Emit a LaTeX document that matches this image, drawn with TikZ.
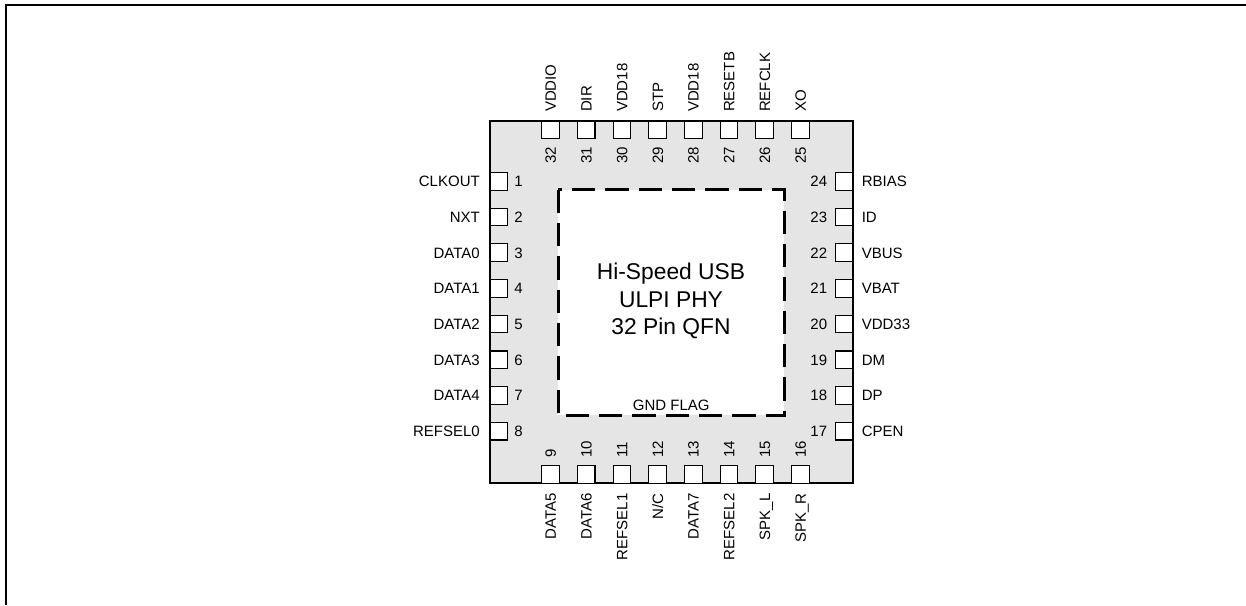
\documentclass[tikz,border=0pt]{standalone}
\usepackage{fontspec}
\setmainfont{Liberation Sans}
\usepackage{tikz}
\usetikzlibrary{positioning}
\definecolor{pkggray}{RGB}{229,229,229}
\tikzstyle{body}=[%
      rectangle, draw=black, line width=1.1pt, fill=pkggray,
      minimum width=363pt, minimum height=362pt, inner sep=0pt
]
\tikzstyle{flag}=[%
      rectangle, fill=white, minimum width=225.7pt, minimum height=225pt, inner sep=0pt
]
\tikzstyle{flagline}=[draw=black, line width=2.7pt, dash pattern=on 23.3pt off 10pt]
\tikzstyle{pad}=[%
      rectangle, draw=black, line width=1.1pt, fill=white,
      minimum size=17.6pt, inner sep=0pt, node distance=17pt
]
\tikzstyle{txt}=[font=\fontsize{15}{18}\selectfont, inner sep=0pt, text height=10.8pt, text depth=0pt]
\tikzstyle{lname}=[txt, node distance=9.5pt]
\tikzstyle{lnum}=[txt, node distance=6pt]
\tikzstyle{rnum}=[txt, node distance=7.5pt]
\tikzstyle{rname}=[txt, node distance=8pt]
\tikzstyle{tname}=[txt, rotate=90, node distance=8.3pt]
\tikzstyle{tnum}=[txt, rotate=90, node distance=7.6pt]
\tikzstyle{bnum}=[txt, rotate=90, node distance=7pt]
\tikzstyle{bname}=[txt, rotate=90, node distance=9.5pt]

\begin{document}
\begin{tikzpicture}[x=1pt, y=-1pt]
    \useasboundingbox (0,0) rectangle (1246,605);
    \draw[line width=2pt] (6,605) -- (6,5) -- (1246,5);

    \node[body] (chip) at (671.5,302)   {};
    \node[flag] (gnd)  at (671.2,302.5) {};
    \draw[flagline] (gnd.north west) -- (gnd.south west) -- (gnd.south east)
                    -- (gnd.north east) -- cycle;
    \node[font=\fontsize{22.8}{27.5}\selectfont, align=center] (title) at (671,301)
         {Hi-Speed USB\\ULPI PHY\\32 Pin QFN};
    \node[txt, above=4.6pt of gnd.south] (gndlbl) {GND FLAG};

    % left side
    \node[pad] (p1) at (498.8,181.3) {};
    \node[pad] (p2) [below = of p1] {};
    \node[pad] (p3) [below = of p2] {};
    \node[pad] (p4) [below = of p3] {};
    \node[pad] (p5) [below = of p4] {};
    \node[pad] (p6) [below = of p5] {};
    \node[pad] (p7) [below = of p6] {};
    \node[pad] (p8) [below = of p7] {};
    \node[lname, left = of p1] (s1) {CLKOUT};   \node[lnum, right = of p1] (n1) {1};
    \node[lname, left = of p2] (s2) {NXT};      \node[lnum, right = of p2] (n2) {2};
    \node[lname, left = of p3] (s3) {DATA0};    \node[lnum, right = of p3] (n3) {3};
    \node[lname, left = of p4] (s4) {DATA1};    \node[lnum, right = of p4] (n4) {4};
    \node[lname, left = of p5] (s5) {DATA2};    \node[lnum, right = of p5] (n5) {5};
    \node[lname, left = of p6] (s6) {DATA3};    \node[lnum, right = of p6] (n6) {6};
    \node[lname, left = of p7] (s7) {DATA4};    \node[lnum, right = of p7] (n7) {7};
    \node[lname, left = of p8] (s8) {REFSEL0};  \node[lnum, right = of p8] (n8) {8};

    % bottom side
    \node[pad] (p9)  at (550.5,474.5) {};
    \node[pad] (p10) [right = of p9]  {};
    \node[pad] (p11) [right = of p10] {};
    \node[pad] (p12) [right = of p11] {};
    \node[pad] (p13) [right = of p12] {};
    \node[pad] (p14) [right = of p13] {};
    \node[pad] (p15) [right = of p14] {};
    \node[pad] (p16) [right = of p15] {};
    \node[bnum, above = of p9,  anchor=west] (n9)  {9};  \node[bname, below = of p9,  anchor=east] (s9)  {DATA5};
    \node[bnum, above = of p10, anchor=west] (n10) {10}; \node[bname, below = of p10, anchor=east] (s10) {DATA6};
    \node[bnum, above = of p11, anchor=west] (n11) {11}; \node[bname, below = of p11, anchor=east] (s11) {REFSEL1};
    \node[bnum, above = of p12, anchor=west] (n12) {12}; \node[bname, below = of p12, anchor=east] (s12) {N/C};
    \node[bnum, above = of p13, anchor=west] (n13) {13}; \node[bname, below = of p13, anchor=east] (s13) {DATA7};
    \node[bnum, above = of p14, anchor=west] (n14) {14}; \node[bname, below = of p14, anchor=east] (s14) {REFSEL2};
    \node[bnum, above = of p15, anchor=west] (n15) {15}; \node[bname, below = of p15, anchor=east] (s15) {SPK\_L};
    \node[bnum, above = of p16, anchor=west] (n16) {16}; \node[bname, below = of p16, anchor=east] (s16) {SPK\_R};

    % right side
    \node[pad] (p24) at (844.2,181.3) {};
    \node[pad] (p23) [below = of p24] {};
    \node[pad] (p22) [below = of p23] {};
    \node[pad] (p21) [below = of p22] {};
    \node[pad] (p20) [below = of p21] {};
    \node[pad] (p19) [below = of p20] {};
    \node[pad] (p18) [below = of p19] {};
    \node[pad] (p17) [below = of p18] {};
    \node[rnum, left = of p24] (n24) {24};  \node[rname, right = of p24] (s24) {RBIAS};
    \node[rnum, left = of p23] (n23) {23};  \node[rname, right = of p23] (s23) {ID};
    \node[rnum, left = of p22] (n22) {22};  \node[rname, right = of p22] (s22) {VBUS};
    \node[rnum, left = of p21] (n21) {21};  \node[rname, right = of p21] (s21) {VBAT};
    \node[rnum, left = of p20] (n20) {20};  \node[rname, right = of p20] (s20) {VDD33};
    \node[rnum, left = of p19] (n19) {19};  \node[rname, right = of p19] (s19) {DM};
    \node[rnum, left = of p18] (n18) {18};  \node[rname, right = of p18] (s18) {DP};
    \node[rnum, left = of p17] (n17) {17};  \node[rname, right = of p17] (s17) {CPEN};

    % top side
    \node[pad] (p32) at (550.5,129.8) {};
    \node[pad] (p31) [right = of p32] {};
    \node[pad] (p30) [right = of p31] {};
    \node[pad] (p29) [right = of p30] {};
    \node[pad] (p28) [right = of p29] {};
    \node[pad] (p27) [right = of p28] {};
    \node[pad] (p26) [right = of p27] {};
    \node[pad] (p25) [right = of p26] {};
    \node[tname, above = of p32, anchor=west] (s32) {VDDIO};  \node[tnum, below = of p32, anchor=east] (n32) {32};
    \node[tname, above = of p31, anchor=west] (s31) {DIR};    \node[tnum, below = of p31, anchor=east] (n31) {31};
    \node[tname, above = of p30, anchor=west] (s30) {VDD18};  \node[tnum, below = of p30, anchor=east] (n30) {30};
    \node[tname, above = of p29, anchor=west] (s29) {STP};    \node[tnum, below = of p29, anchor=east] (n29) {29};
    \node[tname, above = of p28, anchor=west] (s28) {VDD18};  \node[tnum, below = of p28, anchor=east] (n28) {28};
    \node[tname, above = of p27, anchor=west] (s27) {RESETB}; \node[tnum, below = of p27, anchor=east] (n27) {27};
    \node[tname, above = of p26, anchor=west] (s26) {REFCLK}; \node[tnum, below = of p26, anchor=east] (n26) {26};
    \node[tname, above = of p25, anchor=west] (s25) {XO};     \node[tnum, below = of p25, anchor=east] (n25) {25};
\end{tikzpicture}
\end{document}
